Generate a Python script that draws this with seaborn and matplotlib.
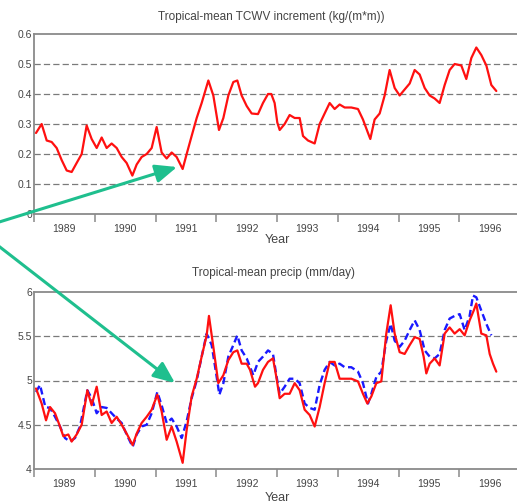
import numpy as np
import pandas as pd
import matplotlib
matplotlib.use("Agg")
import matplotlib.pyplot as plt
from matplotlib.patches import FancyArrowPatch
import seaborn as sns

# ---- Tropical-mean TCWV increment (kg/(m*m)) ----
tcwv_year = [
    1989.033, 1989.126, 1989.209, 1989.291, 1989.373, 1989.455, 1989.538, 1989.620,
    1989.702, 1989.785, 1989.867, 1989.949, 1990.032, 1990.114, 1990.196, 1990.278,
    1990.361, 1990.443, 1990.525, 1990.619, 1990.690, 1990.772, 1990.855, 1990.937,
    1991.019, 1991.101, 1991.184, 1991.266, 1991.348, 1991.447, 1991.513, 1991.595,
    1991.678, 1991.760, 1991.870, 1991.952, 1992.045, 1992.117, 1992.199, 1992.281,
    1992.347, 1992.418, 1992.501, 1992.583, 1992.687, 1992.769, 1992.852, 1992.906,
    1992.961, 1993.005, 1993.044, 1993.126, 1993.208, 1993.291, 1993.373, 1993.428,
    1993.510, 1993.620, 1993.702, 1993.784, 1993.867, 1993.949, 1994.031, 1994.114,
    1994.223, 1994.333, 1994.415, 1994.498, 1994.536, 1994.607, 1994.690, 1994.772,
    1994.854, 1994.937, 1995.019, 1995.101, 1995.184, 1995.266, 1995.348, 1995.431,
    1995.513, 1995.595, 1995.677, 1995.760, 1995.842, 1995.924, 1996.034, 1996.116,
    1996.199, 1996.281, 1996.363, 1996.446, 1996.528, 1996.610,
]
tcwv = [
    0.27, 0.30, 0.245, 0.24, 0.22, 0.18, 0.145, 0.14,
    0.17, 0.20, 0.295, 0.25, 0.22, 0.255, 0.22, 0.235,
    0.22, 0.19, 0.17, 0.128, 0.165, 0.19, 0.20, 0.22,
    0.29, 0.205, 0.185, 0.205, 0.19, 0.15, 0.20, 0.26,
    0.32, 0.37, 0.445, 0.395, 0.28, 0.32, 0.395, 0.44,
    0.445, 0.395, 0.36, 0.335, 0.333, 0.37, 0.40, 0.40,
    0.37, 0.305, 0.28, 0.30, 0.33, 0.32, 0.32, 0.26,
    0.245, 0.235, 0.30, 0.335, 0.37, 0.35, 0.365, 0.355,
    0.355, 0.35, 0.315, 0.27, 0.25, 0.315, 0.335, 0.395,
    0.48, 0.42, 0.395, 0.415, 0.435, 0.48, 0.465, 0.42,
    0.395, 0.385, 0.37, 0.43, 0.48, 0.50, 0.495, 0.45,
    0.52, 0.555, 0.53, 0.495, 0.43, 0.41,
]

# ---- Tropical-mean precip (mm/day): red solid and blue dashed series ----
precip_red_year = [
    1989.033, 1989.126, 1989.198, 1989.264, 1989.346, 1989.428, 1989.483, 1989.565,
    1989.620, 1989.702, 1989.785, 1989.878, 1989.949, 1990.032, 1990.114, 1990.196,
    1990.278, 1990.361, 1990.443, 1990.525, 1990.624, 1990.690, 1990.772, 1990.855,
    1990.937, 1991.030, 1991.101, 1991.184, 1991.266, 1991.348, 1991.447, 1991.513,
    1991.595, 1991.678, 1991.760, 1991.842, 1991.880, 1991.952, 1992.034, 1992.117,
    1992.199, 1992.281, 1992.347, 1992.418, 1992.501, 1992.556, 1992.638, 1992.687,
    1992.769, 1992.852, 1992.934, 1992.989, 1993.044, 1993.126, 1993.208, 1993.291,
    1993.373, 1993.455, 1993.538, 1993.620, 1993.702, 1993.784, 1993.867, 1993.949,
    1994.031, 1994.114, 1994.223, 1994.333, 1994.415, 1994.487, 1994.553, 1994.635,
    1994.717, 1994.799, 1994.871, 1994.937, 1995.019, 1995.101, 1995.184, 1995.266,
    1995.348, 1995.414, 1995.458, 1995.513, 1995.595, 1995.677, 1995.760, 1995.842,
    1995.924, 1996.007, 1996.089, 1996.171, 1996.238, 1996.281, 1996.363, 1996.446,
    1996.501, 1996.556, 1996.610,
]
precip_red = [
    4.91, 4.74, 4.55, 4.70, 4.63, 4.48, 4.37, 4.39,
    4.31, 4.39, 4.50, 4.89, 4.72, 4.93, 4.61, 4.65,
    4.52, 4.59, 4.50, 4.40, 4.27, 4.40, 4.52, 4.59,
    4.67, 4.84, 4.65, 4.33, 4.48, 4.31, 4.07, 4.44,
    4.82, 5.02, 5.27, 5.51, 5.73, 5.38, 4.97, 5.06,
    5.23, 5.32, 5.34, 5.19, 5.19, 5.12, 4.93, 4.97,
    5.12, 5.21, 5.25, 5.04, 4.80, 4.85, 4.85, 4.97,
    4.89, 4.67, 4.61, 4.48, 4.70, 4.97, 5.21, 5.21,
    5.02, 5.02, 5.02, 4.99, 4.85, 4.74, 4.82, 4.97,
    4.99, 5.53, 5.85, 5.53, 5.32, 5.30, 5.40, 5.49,
    5.47, 5.27, 5.08, 5.19, 5.25, 5.17, 5.53, 5.60,
    5.53, 5.58, 5.51, 5.68, 5.79, 5.87, 5.53, 5.51,
    5.30, 5.19, 5.10,
]
precip_blue_year = [
    1989.033, 1989.099, 1989.187, 1989.264, 1989.346, 1989.428, 1989.510, 1989.593,
    1989.675, 1989.757, 1989.878, 1989.949, 1990.032, 1990.114, 1990.196, 1990.278,
    1990.361, 1990.443, 1990.525, 1990.624, 1990.690, 1990.772, 1990.855, 1990.937,
    1991.030, 1991.101, 1991.184, 1991.266, 1991.348, 1991.431, 1991.513, 1991.595,
    1991.678, 1991.760, 1991.842, 1991.925, 1992.007, 1992.051, 1992.117, 1992.199,
    1992.281, 1992.347, 1992.418, 1992.501, 1992.610, 1992.687, 1992.769, 1992.852,
    1992.934, 1992.989, 1993.044, 1993.126, 1993.208, 1993.291, 1993.373, 1993.455,
    1993.538, 1993.620, 1993.702, 1993.784, 1993.867, 1993.949, 1994.031, 1994.114,
    1994.223, 1994.333, 1994.415, 1994.498, 1994.553, 1994.635, 1994.717, 1994.799,
    1994.871, 1994.937, 1995.019, 1995.101, 1995.184, 1995.266, 1995.348, 1995.431,
    1995.513, 1995.595, 1995.677, 1995.760, 1995.842, 1995.924, 1996.007, 1996.089,
    1996.171, 1996.226, 1996.281, 1996.363, 1996.446, 1996.528,
]
precip_blue = [
    4.87, 4.95, 4.70, 4.69, 4.59, 4.48, 4.35, 4.31,
    4.35, 4.48, 4.89, 4.80, 4.63, 4.70, 4.69, 4.63,
    4.57, 4.52, 4.39, 4.25, 4.39, 4.48, 4.50, 4.63,
    4.87, 4.72, 4.52, 4.57, 4.48, 4.35, 4.54, 4.80,
    5.00, 5.27, 5.53, 5.40, 5.04, 4.84, 4.97, 5.27,
    5.40, 5.51, 5.34, 5.25, 5.06, 5.21, 5.27, 5.34,
    5.30, 5.06, 4.85, 4.93, 5.02, 5.02, 4.97, 4.74,
    4.69, 4.67, 4.95, 5.12, 5.21, 5.17, 5.19, 5.15,
    5.15, 5.10, 4.97, 4.74, 4.85, 5.04, 5.10, 5.45,
    5.64, 5.45, 5.38, 5.45, 5.57, 5.68, 5.57, 5.34,
    5.27, 5.25, 5.30, 5.57, 5.70, 5.73, 5.75, 5.57,
    5.73, 5.96, 5.94, 5.79, 5.64, 5.51,
]

year_edges = list(range(1989, 1998))
year_labels = [str(y) for y in range(1989, 1997)]
tcwv_ticks = [0, 0.1, 0.2, 0.3, 0.4, 0.5, 0.6]
tcwv_ticklabels = ["0", "0.1", "0.2", "0.3", "0.4", "0.5", "0.6"]
precip_ticks = [4, 4.5, 5, 5.5, 6]
precip_ticklabels = ["4", "4.5", "5", "5.5", "6"]

sns.set_style("white")
plt.rcParams["font.family"] = ["Liberation Sans", "DejaVu Sans"]

W, H = 517, 503
fig = plt.figure(figsize=(W / 100, H / 100), dpi=100)

def px_axes(left, top, right, bottom):
    return fig.add_axes([left / W, 1 - bottom / H, (right - left) / W, (bottom - top) / H])

ax1 = px_axes(34, 34, 520, 214)
ax2 = px_axes(34, 292, 520, 469)

spine_col = "#8a8a8a"
grid_col = "#7a7a7a"
text_col = "#444444"

sns.lineplot(x=tcwv_year, y=tcwv, ax=ax1, color="#ff1010", lw=1.6,
             estimator=None, sort=False)
sns.lineplot(x=precip_blue_year, y=precip_blue, ax=ax2, color="#1a1aff", lw=1.7,
             estimator=None, sort=False, linestyle=(0, (3.0, 1.6)))
sns.lineplot(x=precip_red_year, y=precip_red, ax=ax2, color="#ff1010", lw=1.6,
             estimator=None, sort=False)

def style_axes(ax, ticks, ticklabels, ylim, title, tx, ty, xlab_y):
    ax.set_xlim(1989, 1997)
    ax.set_ylim(*ylim)
    ax.set_xticks(year_edges)
    ax.set_xticklabels([""] * len(year_edges))
    ax.set_xticks([y + 0.5 for y in range(1989, 1997)], minor=True)
    ax.set_xticklabels(year_labels, minor=True)
    ax.tick_params(axis="x", which="major", direction="out", length=6, width=1.1,
                   color=spine_col, bottom=True)
    ax.tick_params(axis="x", which="minor", length=0, pad=7, labelsize=7.5,
                   labelcolor=text_col, bottom=True)
    ax.set_yticks(ticks)
    ax.set_yticklabels(ticklabels)
    ax.tick_params(axis="y", length=0, pad=1.5, labelsize=7.5, labelcolor=text_col)
    for y in ticks[1:-1]:
        ax.axhline(y, color=grid_col, lw=0.9, linestyle=(0, (5, 2.5)), zorder=0)
    for s in ax.spines.values():
        s.set_color(spine_col)
        s.set_linewidth(1.3)
    ax.text(tx, ty, title, transform=ax.transAxes, ha="center", va="center",
            fontsize=8.5, color=text_col)
    ax.set_xlabel("Year", fontsize=9, color=text_col)
    ax.xaxis.set_label_coords(0.5, xlab_y)
    ax.xaxis.label.set_va("center")
    ax.set_ylabel("")

style_axes(ax1, tcwv_ticks, tcwv_ticklabels, (0, 0.6),
           "Tropical-mean TCWV increment (kg/(m*m))", 0.488, 1.094, -0.144)
style_axes(ax2, precip_ticks, precip_ticklabels, (4, 6),
           "Tropical-mean precip (mm/day)", 0.492, 1.107, -0.164)

# Pointer arrows coming in from the left margin
arrow_col = "#1fbf8e"
for (x0, y0), (x1, y1) in [((-4, 223), (177, 167)), ((-4, 244), (175, 383))]:
    arr = FancyArrowPatch((x0 / W, 1 - y0 / H), (x1 / W, 1 - y1 / H),
                          transform=fig.transFigure,
                          arrowstyle="-|>,head_length=1.3,head_width=0.55",
                          mutation_scale=10, color=arrow_col, lw=2.2,
                          shrinkA=0, shrinkB=0, zorder=10)
    fig.add_artist(arr)

fig.savefig("out.png", dpi=100)
